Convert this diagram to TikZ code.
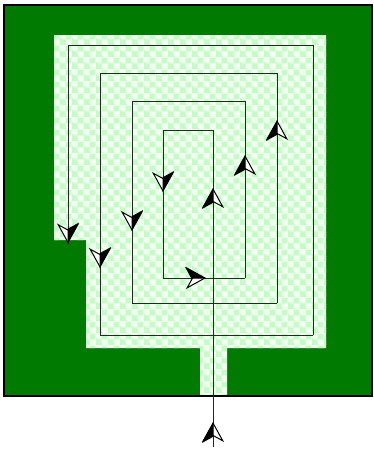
\documentclass[tikz,border=0pt]{standalone}
\usepackage{tikz}
\usetikzlibrary{arrows.meta, decorations.markings, patterns.meta}
\usepackage{xcolor}

\definecolor{wallgreen}{RGB}{0,122,0}
\definecolor{floorpale}{RGB}{240,255,240}
\definecolor{floortint}{RGB}{198,250,198}

\tikzdeclarepattern{
  name=floortile,
  type=uncolored,
  bounding box={(0pt,0pt) and (12pt,12pt)},
  tile size={(12pt,12pt)},
  code={
    \fill (0pt,0pt) rectangle (6pt,6pt);
    \fill (6pt,6pt) rectangle (12pt,12pt);
    \fill (6pt,0pt) circle (2pt);
    \fill (0pt,6pt) circle (2pt);
  }
}

\tikzset{
  dartw/.tip = {Stealth[open, fill=white, length=20pt, width=22pt, inset=6pt, line width=1pt]},
  dartb/.tip = {Stealth[harpoon, length=20pt, width=22pt, inset=6pt, line width=1pt]},
}

\begin{document}
\begin{tikzpicture}[x=1pt, y=-1pt,
  floor/.style = {fill=floorpale, postaction={pattern=floortile, pattern color=floortint}},
  trail/.style = {draw=black!85, line width=0.9pt},
  dart at/.style = {postaction={decorate, decoration={markings,
                    mark=at position #1 with {\arrow{dartw}\arrow{dartb}}}}},
]
\useasboundingbox (0,0) rectangle (374,453);

% ── Walls and floor ─────────────────────────────────────────────────────────
\fill[wallgreen] (4,5) rectangle (372,396);
\path[floor] (54,35) -- (326,35) -- (326,348) -- (227,348) -- (227,396)
   -- (200,396) -- (200,348) -- (86,348) -- (86,240) -- (54,240) -- cycle;
\draw[black, line width=1.5pt] (4,5) rectangle (372,396);

% ── Spiral corners ──────────────────────────────────────────────────────────
\coordinate (p0)  at (213,447);
\coordinate (p1)  at (213,130);
\coordinate (p2)  at (163,130);
\coordinate (p3)  at (163,278);
\coordinate (p4)  at (245,278);
\coordinate (p5)  at (245,101);
\coordinate (p6)  at (132,101);
\coordinate (p7)  at (132,303);
\coordinate (p8)  at (277,303);
\coordinate (p9)  at (277,73);
\coordinate (p10) at (100,73);
\coordinate (p11) at (100,335);
\coordinate (p12) at (313,335);
\coordinate (p13) at (313,45);
\coordinate (p14) at (68,45);
\coordinate (p15) at (68,244);

\foreach \a/\b in {p0/p1, p1/p2, p2/p3, p3/p4, p4/p5, p5/p6, p6/p7, p7/p8,
                   p8/p9, p9/p10, p10/p11, p11/p12, p12/p13, p13/p14, p14/p15}
  \draw[trail] (\a) -- (\b);

% ── Direction darts ─────────────────────────────────────────────────────────
\path[dart at=25pt, dart at=259pt] (p0) -- (p1);
\path[dart at=62pt]  (p2) -- (p3);
\path[dart at=43pt]  (p3) -- (p4);
\path[dart at=123pt] (p4) -- (p5);
\path[dart at=130pt] (p6) -- (p7);
\path[dart at=183pt] (p8) -- (p9);
\path[dart at=195pt] (p10) -- (p11);
\path[dart at=198.5pt] (p14) -- (p15);
\end{tikzpicture}
\end{document}
